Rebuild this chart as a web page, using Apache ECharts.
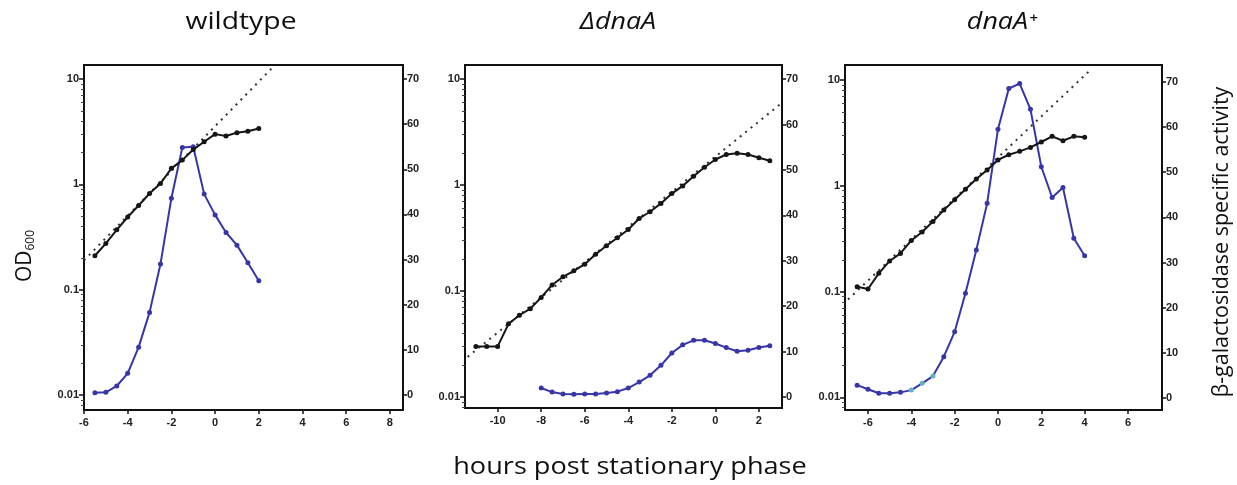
<!DOCTYPE html>
<html style="height:100%;">
<head>
<meta charset="UTF-8" />
<title>OD600 and beta-galactosidase activity</title>
<script src="https://cdn.jsdelivr.net/npm/echarts@6.0.0/dist/echarts.min.js"></script>
</head>
<body style="margin:0;padding:0;height:100%;background:#fff;">
<div id="chart" style="width:1237px;height:485px;"></div>
<script>
// panel titles and axis ticks
const panelTitles = ['wildtype', 'ΔdnaA', 'dnaA⁺'];
const odTicks = [0.01, 0.1, 1, 10];
const activityTicks = [0, 10, 20, 30, 40, 50, 60, 70];
const wtXTicks = [-6, -4, -2, 0, 2, 4, 6, 8];
const dnaXTicks = [-10, -8, -6, -4, -2, 0, 2];
const plusXTicks = [-6, -4, -2, 0, 2, 4, 6];

// wildtype
const wtHours = [-5.5, -5, -4.5, -4, -3.5, -3, -2.5, -2, -1.5, -1, -0.5, 0, 0.5, 1, 1.5, 2];
const wtOD = [0.21, 0.275, 0.37, 0.49, 0.63, 0.82, 1.02, 1.42, 1.7, 2.14, 2.54, 3.0, 2.88, 3.1, 3.2, 3.4];
const wtBgal = [0.5, 0.6, 2.0, 4.8, 10.6, 18.3, 29.0, 43.6, 54.8, 55.0, 44.5, 39.9, 36.0, 33.2, 29.3, 25.3];
const wtFit = [[-6, 0.19], [2.65, 13]];

// delta dnaA
const dnaHoursOD = [-11, -10.5, -10, -9.5, -9, -8.5, -8, -7.5, -7, -6.5, -6, -5.5, -5, -4.5,
  -4, -3.5, -3, -2.5, -2, -1.5, -1, -0.5, 0, 0.5, 1, 1.5, 2, 2.5];
const dnaOD = [0.030, 0.030, 0.030, 0.049, 0.059, 0.068, 0.087, 0.114, 0.136, 0.155, 0.179, 0.222, 0.267, 0.318,
  0.38, 0.483, 0.559, 0.67, 0.83, 0.98, 1.21, 1.47, 1.74, 1.94, 1.99, 1.94, 1.81, 1.69];
const dnaHoursBgal = [-8, -7.5, -7, -6.5, -6, -5.5, -5, -4.5, -4, -3.5, -3, -2.5, -2, -1.5, -1, -0.5, 0, 0.5, 1, 1.5, 2, 2.5];
const dnaBgal = [2.0, 1.1, 0.7, 0.6, 0.7, 0.7, 0.9, 1.2, 2.0, 3.3, 4.8, 7.0, 9.7, 11.5, 12.5, 12.5, 11.8, 10.9, 10.1, 10.3, 10.9, 11.3];
const dnaFit = [[-11.38, 0.0239], [3.03, 5.89]];

// dnaA+
const plusHours = [-6.5, -6, -5.5, -5, -4.5, -4, -3.5, -3, -2.5, -2, -1.5, -1, -0.5, 0, 0.5, 1, 1.5, 2, 2.5, 3, 3.5, 4];
const plusOD = [0.111, 0.106, 0.149, 0.195, 0.23, 0.305, 0.366, 0.46, 0.59, 0.74, 0.93, 1.16, 1.41, 1.76, 1.97, 2.12, 2.31, 2.6, 2.94, 2.67, 2.94, 2.89];
const plusBgal = [2.9, 2.0, 1.1, 1.1, 1.3, 1.8, 3.3, 4.9, 9.2, 14.7, 23.2, 32.8, 43.1, 59.5, 68.5, 69.6, 63.9, 51.2, 44.4, 46.6, 35.4, 31.5];
const plusFit = [[-6.92, 0.0843], [4.34, 12.9]];

function pairs(xs, ys) {
  return xs.map(function(x, i) { return [x, ys[i]]; });
}

// minor ticks of the log axis (2..9 in each decade)
const minorTicks = [];
for (let n = -3; n <= 1; n++) {
  for (let k = 2; k <= 9; k++) minorTicks.push(+(k * Math.pow(10, n)).toPrecision(3));
}

const chart = echarts.init(document.getElementById('chart'));

const grids = [
  {left: 84, top: 65, width: 319, height: 345},
  {left: 465, top: 65, width: 317, height: 343},
  {left: 845, top: 65, width: 317, height: 345}
];
const xRanges = [[-6, 8.6], [-11.5, 3.06], [-7.06, 7.57]];
const xTickSets = [wtXTicks, dnaXTicks, plusXTicks];
const odRanges = [[0.00721, 13.6], [0.00787, 13.55], [0.0076, 13.9]];
const actRanges = [[-3.32, 73.1], [-2.4, 73.1], [-2.6, 73.7]];

const tickFont = {color: '#222', fontSize: 11, fontWeight: 'bold', fontFamily: 'Liberation Sans'};
const axisLineStyle = {show: true, onZero: false, lineStyle: {color: '#111', width: 2}};

const xAxes = [], yAxes = [];
for (let i = 0; i < 3; i++) {
  xAxes.push({
    type: 'value', gridIndex: i, min: xRanges[i][0], max: xRanges[i][1],
    axisLine: axisLineStyle,
    axisTick: {customValues: xTickSets[i], length: 4, lineStyle: {color: '#111', width: 1.5}},
    axisLabel: Object.assign({customValues: xTickSets[i], margin: 7}, tickFont),
    splitLine: {show: false}
  });
  yAxes.push({
    type: 'log', gridIndex: i, position: 'left', min: odRanges[i][0], max: odRanges[i][1],
    axisLine: axisLineStyle,
    axisTick: {customValues: odTicks, length: 5, lineStyle: {color: '#111', width: 1.5}},
    axisLabel: Object.assign({customValues: odTicks, margin: 5, formatter: function(v) { return String(v); }}, tickFont),
    splitLine: {show: false}
  });
  yAxes.push({
    type: 'value', gridIndex: i, position: 'right', min: actRanges[i][0], max: actRanges[i][1],
    axisLine: axisLineStyle,
    axisTick: {customValues: activityTicks, length: 4, lineStyle: {color: '#111', width: 1.5}},
    axisLabel: Object.assign({customValues: activityTicks, margin: 4}, tickFont),
    splitLine: {show: false}
  });
  yAxes.push({
    type: 'log', gridIndex: i, position: 'left', min: odRanges[i][0], max: odRanges[i][1],
    axisLine: {show: false, onZero: false},
    axisTick: {customValues: minorTicks, length: 3, lineStyle: {color: '#444', width: 1}},
    axisLabel: {show: false},
    splitLine: {show: false}
  });
}

const blue = '#3636a8';
function odSeries(i, data) {
  return {
    type: 'line', xAxisIndex: i, yAxisIndex: 3 * i, data: data,
    symbol: 'circle', symbolSize: 5, color: '#151515',
    lineStyle: {color: '#151515', width: 2}, z: 4
  };
}
function bgalSeries(i, data) {
  return {
    type: 'line', xAxisIndex: i, yAxisIndex: 3 * i + 1, data: data,
    symbol: 'circle', symbolSize: 5, color: blue,
    lineStyle: {color: blue, width: 2}, z: 3
  };
}
function fitSeries(i, data) {
  return {
    type: 'line', xAxisIndex: i, yAxisIndex: 3 * i, data: data, symbol: 'none',
    lineStyle: {color: '#333', width: 2, type: [2, 5]}, z: 2, silent: true
  };
}

const series = [
  fitSeries(0, wtFit), bgalSeries(0, pairs(wtHours, wtBgal)), odSeries(0, pairs(wtHours, wtOD)),
  fitSeries(1, dnaFit), bgalSeries(1, pairs(dnaHoursBgal, dnaBgal)), odSeries(1, pairs(dnaHoursOD, dnaOD)),
  fitSeries(2, plusFit), bgalSeries(2, pairs(plusHours, plusBgal)), odSeries(2, pairs(plusHours, plusOD))
];

const labelFont = 'Open Sans';
const textBase = {fontFamily: labelFont, fill: '#111', align: 'center', verticalAlign: 'middle'};
const option = {
  animation: false,
  backgroundColor: '#fff',
  grid: grids.map(function(g) {
    return Object.assign({show: true, borderColor: '#111', borderWidth: 2, backgroundColor: 'transparent'}, g);
  }),
  xAxis: xAxes,
  yAxis: yAxes,
  visualMap: [{
    show: false, type: 'piecewise', seriesIndex: 7, dimension: 0,
    pieces: [
      {lt: -4.1, color: blue},
      {gte: -4.1, lt: -2.6, color: '#5fb3c6'},
      {gte: -2.6, color: blue}
    ]
  }],
  series: series,
  graphic: [
    {type: 'text', x: 241, y: 22, scaleX: 1.18, style: Object.assign({text: panelTitles[0], fontSize: 24}, textBase)},
    {type: 'text', x: 618, y: 22, scaleX: 1.12, style: Object.assign({text: panelTitles[1], fontSize: 24, fontStyle: 'italic'}, textBase)},
    {type: 'text', x: 1002, y: 22, scaleX: 1.12, style: Object.assign({text: panelTitles[2], fontSize: 24, fontStyle: 'italic'}, textBase)},
    {type: 'text', x: 25, y: 256, rotation: Math.PI / 2,
      style: Object.assign({text: 'OD{s|600}', fontSize: 21,
        rich: {s: {fontSize: 12, fontFamily: labelFont, fill: '#111', padding: [11, 0, 0, 0]}}}, textBase)},
    {type: 'text', x: 1222, y: 242, rotation: Math.PI / 2,
      style: Object.assign({text: 'β-galactosidase specific activity', fontSize: 21.5}, textBase)},
    {type: 'text', x: 630, y: 467, scaleX: 1.13,
      style: Object.assign({text: 'hours post stationary phase', fontSize: 24}, textBase)}
  ]
};
chart.setOption(option);
</script>
</body>
</html>
